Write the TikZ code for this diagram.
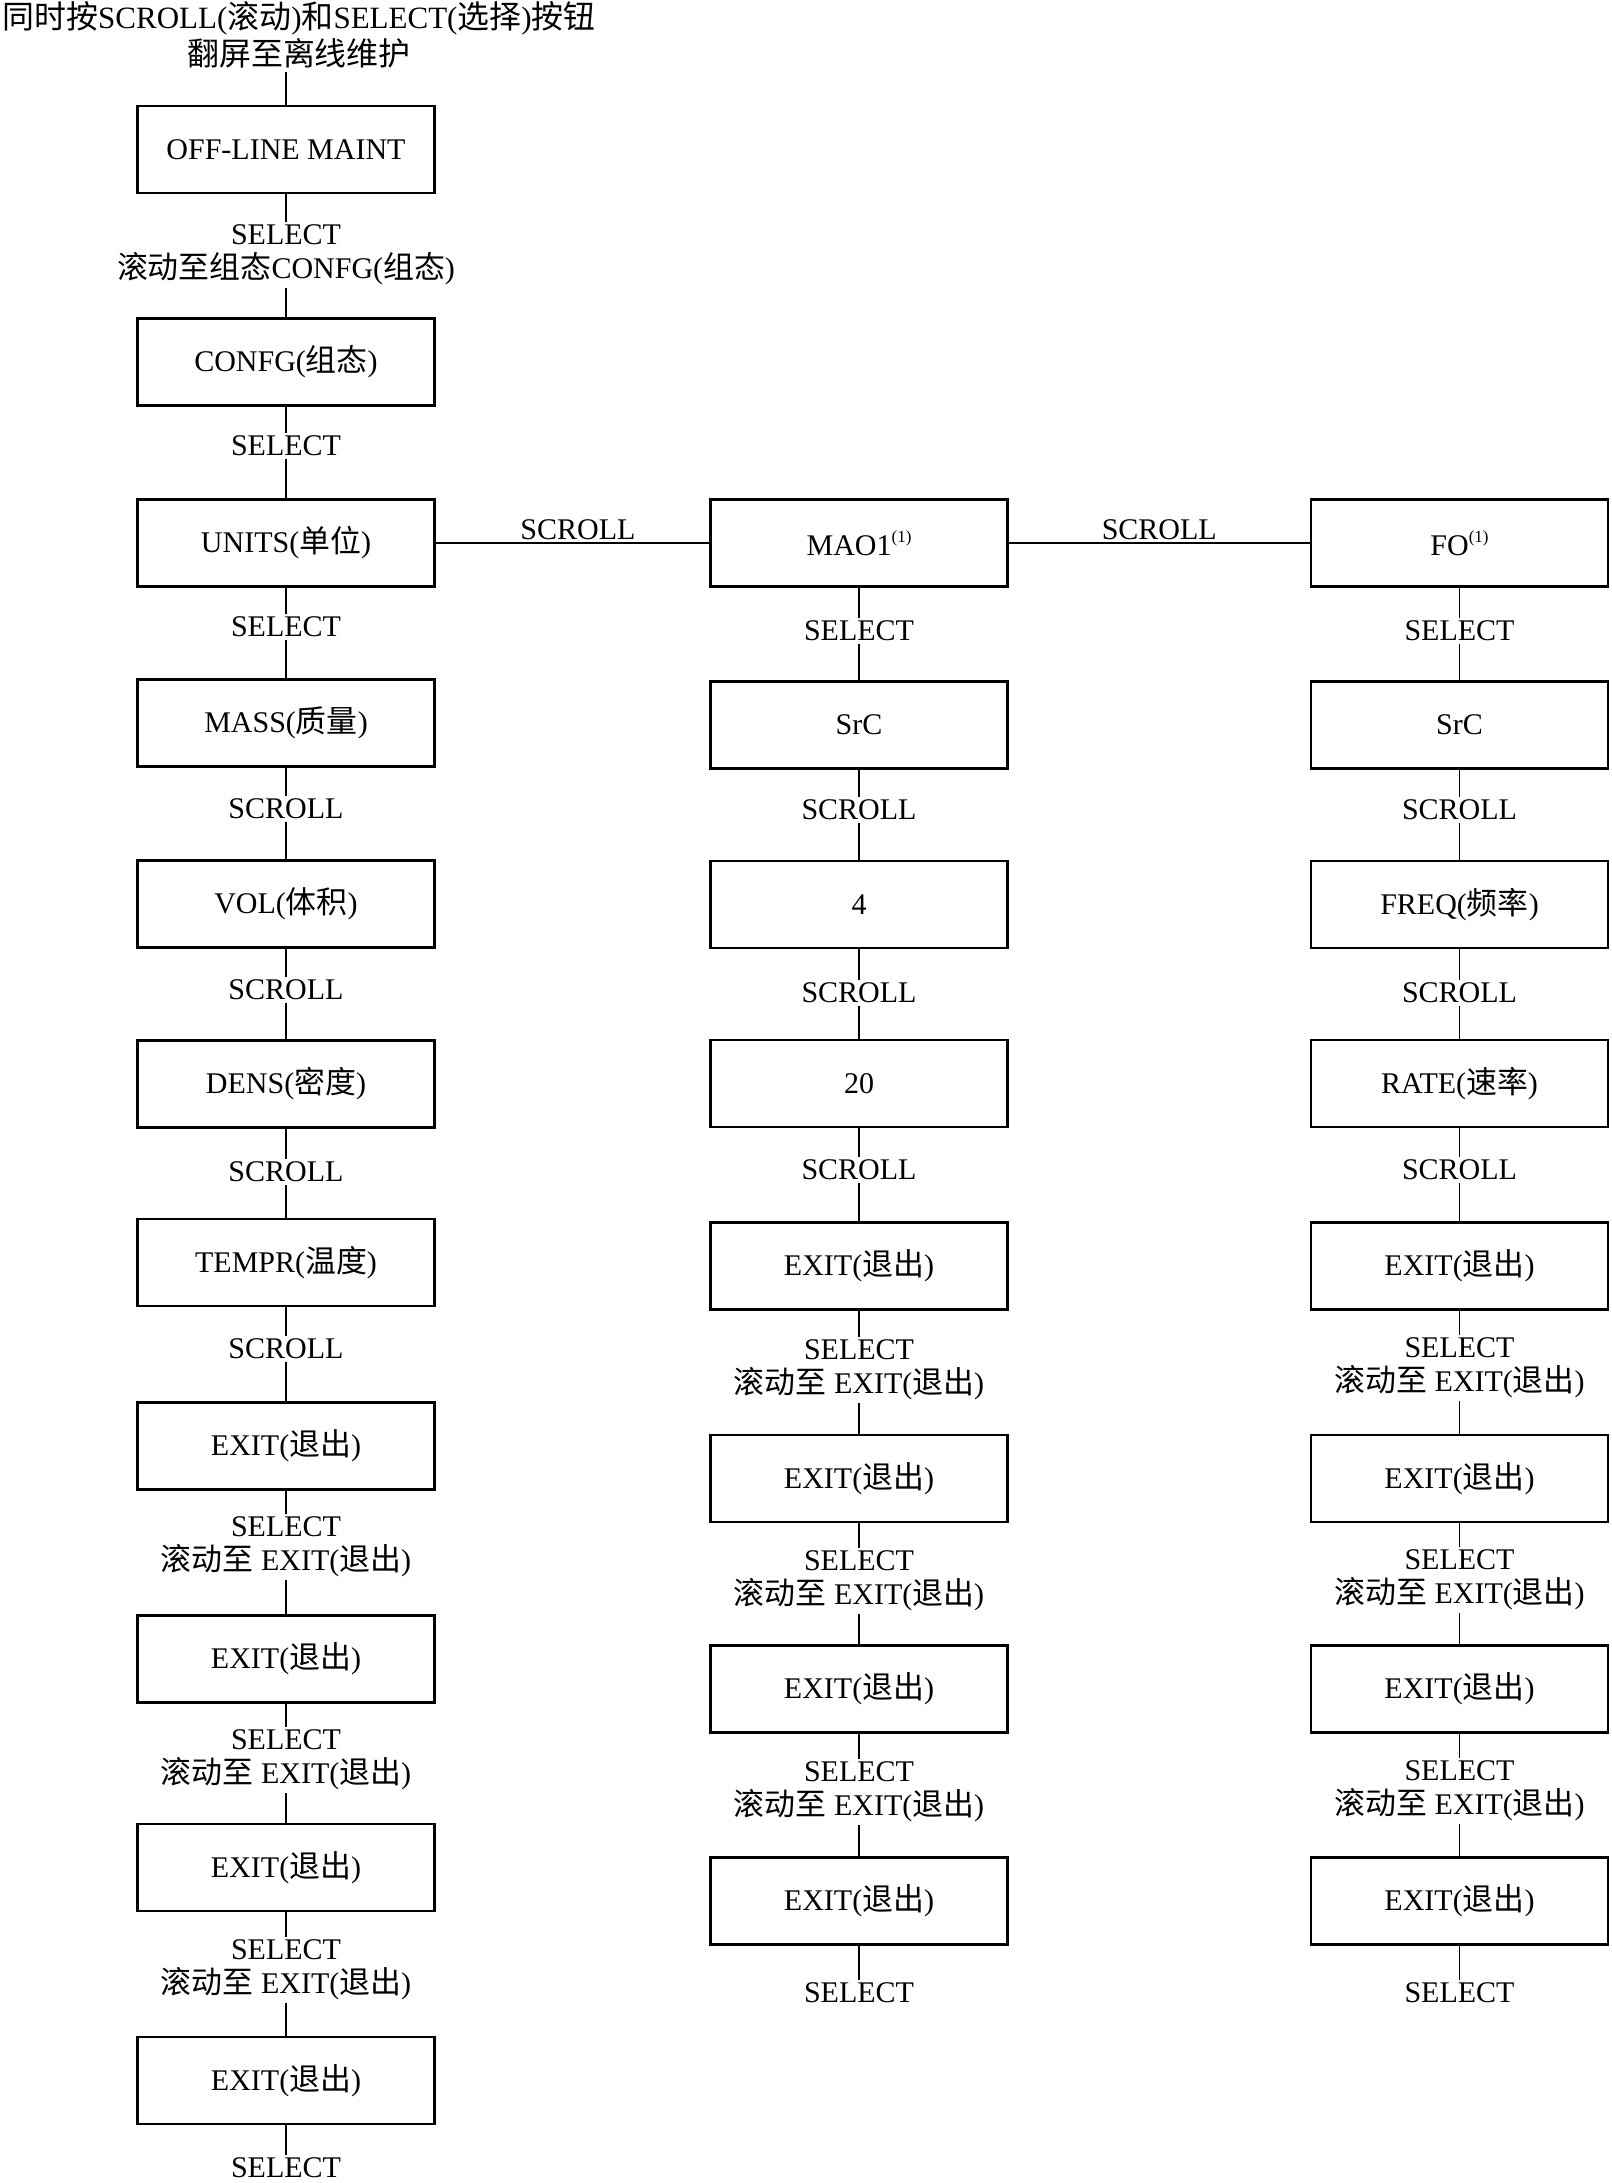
\documentclass[tikz,border=0pt]{standalone}
\usepackage{fontspec}
\setmainfont{Liberation Serif}
\newfontfamily\zhfont[Scale=1.03]{Noto Sans CJK SC}
\newcommand{\zhtxt}[1]{{\zhfont #1}}
\newcommand{\supone}{\raisebox{0.45em}{\fontsize{17}{17}\selectfont(1)}}
\begin{document}
\begin{tikzpicture}[x=1pt,y=-1pt,
  every node/.style={font=\fontsize{30}{34}\selectfont, text=black},
  box/.style={draw, line width=2.8pt, minimum width=297pt, minimum height=87pt, inner sep=0pt},
  lab/.style={inner sep=2.5pt, align=center},
  conn/.style={line width=1.6pt}]
\useasboundingbox (0,0) rectangle (1611,2183);

% title
\node[lab, font=\fontsize{31}{36}\selectfont] (title) at (299,35) {\zhtxt{同时按}SCROLL(\zhtxt{滚动})\zhtxt{和}SELECT(\zhtxt{选择})\zhtxt{按钮}\\[1pt]\zhtxt{翻屏至离线维护}};
\coordinate (t0) at (286,72);

% left column
\node[box] (off) at (286,149.5) {OFF-LINE MAINT};
\node[lab] (l0) at (286,255) {SELECT\\\zhtxt{滚动至组态}CONFG(\zhtxt{组态})};
\node[box] (confg) at (286,362) {CONFG(\zhtxt{组态})};
\node[lab] (l1) at (286,446) {SELECT};
\node[box] (units) at (286,543) {UNITS(\zhtxt{单位})};
\node[lab] (l2) at (286,627) {SELECT};
\node[box] (mass) at (286,723) {MASS(\zhtxt{质量})};
\node[lab] (l3) at (286,809) {SCROLL};
\node[box] (vol) at (286,904) {VOL(\zhtxt{体积})};
\node[lab] (l4) at (286,990) {SCROLL};
\node[box] (dens) at (286,1084) {DENS(\zhtxt{密度})};
\node[lab] (l5) at (286,1172) {SCROLL};
\node[box] (tempr) at (286,1262.5) {TEMPR(\zhtxt{温度})};
\node[lab] (l6) at (286,1349) {SCROLL};
\node[box] (le1) at (286,1446) {EXIT(\zhtxt{退出})};
\node[lab] (l7) at (286,1547) {SELECT\\\zhtxt{滚动至} EXIT(\zhtxt{退出})};
\node[box] (le2) at (286,1659) {EXIT(\zhtxt{退出})};
\node[lab] (l8) at (286,1760) {SELECT\\\zhtxt{滚动至} EXIT(\zhtxt{退出})};
\node[box] (le3) at (286,1867.5) {EXIT(\zhtxt{退出})};
\node[lab] (l9) at (286,1970) {SELECT\\\zhtxt{滚动至} EXIT(\zhtxt{退出})};
\node[box] (le4) at (286,2080.5) {EXIT(\zhtxt{退出})};
\node[lab] (l10) at (286,2168) {SELECT};

% middle column
\node[box] (mao) at (859,543) {MAO1\supone};
\node[lab] (m1) at (859,631) {SELECT};
\node[box] (srcm) at (859,725) {SrC};
\node[lab] (m2) at (859,810) {SCROLL};
\node[box] (four) at (859,904.5) {4};
\node[lab] (m3) at (859,993) {SCROLL};
\node[box] (twenty) at (859,1083.5) {20};
\node[lab] (m4) at (859,1170) {SCROLL};
\node[box] (me1) at (859,1266) {EXIT(\zhtxt{退出})};
\node[lab] (m5) at (859,1370) {SELECT\\\zhtxt{滚动至} EXIT(\zhtxt{退出})};
\node[box] (me2) at (859,1478.5) {EXIT(\zhtxt{退出})};
\node[lab] (m6) at (859,1581) {SELECT\\\zhtxt{滚动至} EXIT(\zhtxt{退出})};
\node[box] (me3) at (859,1689) {EXIT(\zhtxt{退出})};
\node[lab] (m7) at (859,1792) {SELECT\\\zhtxt{滚动至} EXIT(\zhtxt{退出})};
\node[box] (me4) at (859,1901) {EXIT(\zhtxt{退出})};
\node[lab] (m8) at (859,1993) {SELECT};

% right column
\node[box] (fo) at (1459.5,543) {FO\supone};
\node[lab] (r1) at (1459.5,631) {SELECT};
\node[box] (srcr) at (1459.5,725) {SrC};
\node[lab] (r2) at (1459.5,810) {SCROLL};
\node[box] (freq) at (1459.5,904.5) {FREQ(\zhtxt{频率})};
\node[lab] (r3) at (1459.5,993) {SCROLL};
\node[box] (rate) at (1459.5,1083.5) {RATE(\zhtxt{速率})};
\node[lab] (r4) at (1459.5,1170) {SCROLL};
\node[box] (re1) at (1459.5,1266) {EXIT(\zhtxt{退出})};
\node[lab] (r5) at (1459.5,1368) {SELECT\\\zhtxt{滚动至} EXIT(\zhtxt{退出})};
\node[box] (re2) at (1459.5,1478.5) {EXIT(\zhtxt{退出})};
\node[lab] (r6) at (1459.5,1580) {SELECT\\\zhtxt{滚动至} EXIT(\zhtxt{退出})};
\node[box] (re3) at (1459.5,1689) {EXIT(\zhtxt{退出})};
\node[lab] (r7) at (1459.5,1791) {SELECT\\\zhtxt{滚动至} EXIT(\zhtxt{退出})};
\node[box] (re4) at (1459.5,1901) {EXIT(\zhtxt{退出})};
\node[lab] (r8) at (1459.5,1993) {SELECT};

% connectors
\draw[conn] (t0) -- (off);
\foreach \a/\b in {off/l0, l0/confg, confg/l1, l1/units, units/l2, l2/mass, mass/l3, l3/vol,
  vol/l4, l4/dens, dens/l5, l5/tempr, tempr/l6, l6/le1, le1/l7, l7/le2, le2/l8, l8/le3,
  le3/l9, l9/le4, le4/l10,
  mao/m1, m1/srcm, srcm/m2, m2/four, four/m3, m3/twenty, twenty/m4, m4/me1, me1/m5, m5/me2,
  me2/m6, m6/me3, me3/m7, m7/me4, me4/m8,
  fo/r1, r1/srcr, srcr/r2, r2/freq, freq/r3, r3/rate, rate/r4, r4/re1, re1/r5, r5/re2,
  re2/r6, r6/re3, re3/r7, r7/re4, re4/r8}
  \draw[conn] (\a) -- (\b);
\draw[conn] (units) -- node[above, pos=0.52, inner sep=2pt] (h1) {SCROLL} (mao);
\draw[conn] (mao) -- node[above, pos=0.5, inner sep=2pt] (h2) {SCROLL} (fo);
\end{tikzpicture}
\end{document}
